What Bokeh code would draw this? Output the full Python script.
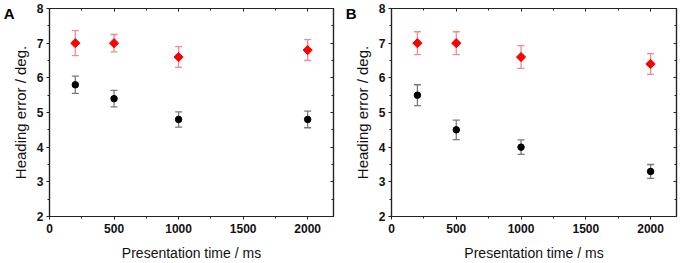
import math
from bokeh.plotting import figure
from bokeh.layouts import row
from bokeh.models import (ColumnDataSource, Whisker, FixedTicker, LinearAxis, Range1d,
                          TeeHead)
from bokeh.embed import file_html
from bokeh.resources import INLINE

times = [200, 500, 1000, 2000]

a_red = [7.0, 7.0, 6.6, 6.8]
a_red_err = [0.36, 0.25, 0.30, 0.30]
a_black = [5.8, 5.4, 4.8, 4.8]
a_black_err = [0.25, 0.24, 0.22, 0.24]

b_red = [7.0, 7.0, 6.6, 6.4]
b_red_err = [0.33, 0.33, 0.33, 0.30]
b_black = [5.5, 4.5, 4.0, 3.3]
b_black_err = [0.30, 0.28, 0.21, 0.20]

x_ticks = [0, 500, 1000, 1500, 2000]
x_minor = [250, 750, 1250, 1750, 2250]
y_ticks = [2, 3, 4, 5, 6, 7, 8]
y_minor = [2.5, 3.5, 4.5, 5.5, 6.5, 7.5]

FONT = "Liberation Sans"
LETTER_Y = 7.85  # where the panel letter sits on the outer left axis


def style_axis(ax, ticks=None, show_labels=True, inward=False):
    ax.axis_line_color = "#222222"
    ax.axis_line_width = 1.2
    ax.major_tick_line_color = "#222222"
    ax.minor_tick_line_color = "#222222"
    ax.major_tick_line_width = 1
    ax.minor_tick_line_width = 1
    if inward:
        ax.major_tick_in = 3
        ax.major_tick_out = 0
        ax.minor_tick_in = 2
        ax.minor_tick_out = 0
    else:
        ax.major_tick_in = 0
        ax.major_tick_out = 3
        ax.minor_tick_in = 0
        ax.minor_tick_out = 2
    if show_labels:
        ax.major_label_text_font = FONT
        ax.major_label_text_font_style = "bold"
        ax.major_label_text_font_size = "12px"
        ax.major_label_text_color = "#111111"
        ax.axis_label_text_font = FONT
        ax.axis_label_text_font_style = "normal"
        ax.axis_label_text_font_size = "14px"
        ax.axis_label_text_color = "#111111"
    else:
        ax.major_label_overrides = {t: "" for t in ticks}
        ax.major_label_text_font_size = "1px"
        ax.major_label_standoff = 0


def make_panel(letter, red, red_err, black, black_err, left, right):
    p = figure(width=340, height=263, output_backend="svg", toolbar_location=None,
               x_range=Range1d(0, 2200), y_range=Range1d(2, 8),
               min_border_left=left, min_border_right=right,
               min_border_top=8, min_border_bottom=44)
    p.grid.visible = False
    p.outline_line_color = "#222222"
    p.outline_line_width = 1.2
    p.background_fill_color = "white"
    p.border_fill_color = "white"

    p.xaxis.ticker = FixedTicker(ticks=x_ticks, minor_ticks=x_minor)
    p.yaxis.ticker = FixedTicker(ticks=y_ticks, minor_ticks=y_minor)
    p.xaxis.axis_label = "Presentation time / ms"
    p.yaxis.axis_label = "Heading error / deg."
    style_axis(p.xaxis[0])
    style_axis(p.yaxis[0])
    p.yaxis.axis_label_text_font_size = "15px"
    p.xaxis.major_label_standoff = 4
    p.yaxis.major_label_standoff = 3
    p.xaxis.axis_label_standoff = 9
    p.yaxis.axis_label_standoff = 5

    top = LinearAxis(ticker=FixedTicker(ticks=x_ticks, minor_ticks=x_minor))
    rgt = LinearAxis(ticker=FixedTicker(ticks=y_ticks, minor_ticks=y_minor))
    style_axis(top, ticks=x_ticks, show_labels=False, inward=True)
    style_axis(rgt, ticks=y_ticks, show_labels=False, inward=True)
    p.add_layout(top, "above")
    p.add_layout(rgt, "right")

    # outer left axis used only to carry the panel letter (outside the frame)
    let = LinearAxis(ticker=FixedTicker(ticks=[LETTER_Y], minor_ticks=[]))
    let.major_label_overrides = {LETTER_Y: letter}
    let.axis_line_color = None
    let.major_tick_line_color = None
    let.minor_tick_line_color = None
    let.major_tick_out = 0
    let.major_tick_in = 0
    let.major_label_standoff = -6
    let.major_label_text_font = FONT
    let.major_label_text_font_style = "bold"
    let.major_label_text_font_size = "15px"
    let.major_label_text_color = "#000000"
    p.add_layout(let, "left")

    src_r = ColumnDataSource(dict(x=times, y=red,
                                  lo=[v - e for v, e in zip(red, red_err)],
                                  hi=[v + e for v, e in zip(red, red_err)]))
    src_k = ColumnDataSource(dict(x=times, y=black,
                                  lo=[v - e for v, e in zip(black, black_err)],
                                  hi=[v + e for v, e in zip(black, black_err)]))

    for src, col in ((src_r, "#f28a8a"), (src_k, "#7a7a7a")):
        w = Whisker(source=src, base="x", lower="lo", upper="hi",
                    line_color=col, line_width=1.3,
                    lower_head=TeeHead(size=7, line_color=col, line_width=1.3),
                    upper_head=TeeHead(size=7, line_color=col, line_width=1.3))
        p.add_layout(w)

    p.scatter("x", "y", source=src_r, marker="square", size=6.5, angle=math.pi / 4,
              fill_color="#ff0000", line_color="#ff0000")
    p.scatter("x", "y", source=src_k, marker="circle", size=6.5,
              fill_color="#000000", line_color="#000000")
    return p


pa = make_panel("A", a_red, a_red_err, a_black, a_black_err, 49, 7)
pb = make_panel("B", b_red, b_red_err, b_black, b_black_err, 51, 4)

layout = row(pa, pb)
open("out.html", "w").write(file_html(layout, INLINE))
